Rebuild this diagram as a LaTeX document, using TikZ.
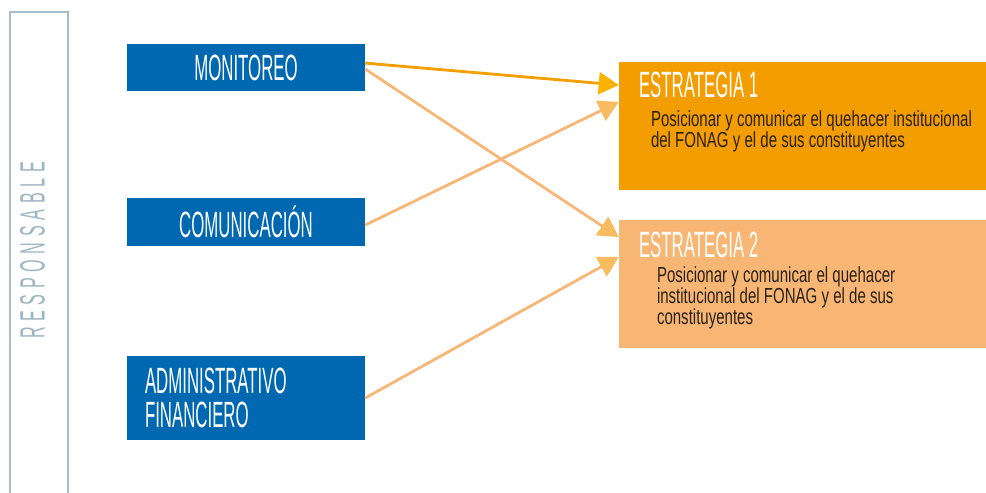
\documentclass[tikz,border=0pt]{standalone}
\usepackage{fontspec}
\setmainfont{Liberation Sans}
\newfontfamily\narrowfont{Liberation Sans}[FakeStretch=0.46]
\newfontfamily\bodyfont{Liberation Sans}[FakeStretch=0.69]
\newfontfamily\spacedfont{Liberation Sans}[FakeStretch=0.46,LetterSpace=16]
\usetikzlibrary{calc,arrows.meta}
\definecolor{areablue}{HTML}{0068B1}
\definecolor{stratone}{HTML}{F39D00}
\definecolor{strattwo}{HTML}{F8B674}
\definecolor{linkdark}{HTML}{F3A000}
\definecolor{tipdark}{HTML}{F9B300}
\definecolor{linklight}{HTML}{F8B777}
\definecolor{tiplight}{HTML}{F8BB5F}
\definecolor{respgray}{HTML}{9DB6C3}
\definecolor{bodytext}{HTML}{2B2118}
\tikzset{
  area/.style={fill=areablue, text=white, minimum width=5.95cm, inner sep=0,
    font=\narrowfont\fontsize{26}{24.5}\selectfont},
  strat/.style={minimum width=9.175cm, minimum height=3.2cm, inner sep=0},
  stitle/.style={anchor=north west, inner sep=0, text=white,
    font=\narrowfont\fontsize{26}{24.5}\selectfont},
  desc/.style={anchor=north west, inner sep=0, align=left, text=bodytext,
    font=\bodyfont\fontsize{15.5}{15}\selectfont},
  link/.style={line width=2pt, color=linklight,
    -{Triangle[length=0.5cm,width=0.55cm,color=tiplight]}},
}

\begin{document}
\begin{tikzpicture}
  \useasboundingbox (0,0) rectangle (24.65,-12.325);
  \draw[respgray!90, line width=1.4pt] (0.25,-12.4) -- (0.25,-0.3) -- (1.7,-0.3) -- (1.7,-12.4);
  \node[rotate=90, text=respgray, inner sep=0, font=\spacedfont\fontsize{25}{25}\selectfont] (resp) at (0.8125,-6.26) {RESPONSABLE};

  \node[area, minimum height=1.175cm] (mon) at (6.15,-1.6875) {MONITOREO};
  \node[area, minimum height=1.2cm] (com) at (6.15,-5.55) {COMUNICACIÓN};
  \node[area, minimum height=2.1cm, text width=5.05cm, inner xsep=0.45cm, align=left] (adm) at (6.15,-9.95) {ADMINISTRATIVO\\FINANCIERO};

  \node[strat, fill=stratone] (est1) at (20.0625,-3.15) {};
  \node[strat, fill=strattwo] (est2) at (20.0625,-7.1) {};
  \node[stitle] (est1t) at ($(est1.north west)+(0.5,-0.25)$) {ESTRATEGIA 1};
  \node[desc] (est1d) at ($(est1.north west)+(0.8,-1.22)$) {Posicionar y comunicar el quehacer institucional\\del FONAG y el de sus constituyentes};
  \node[stitle] (est2t) at ($(est2.north west)+(0.5,-0.3)$) {ESTRATEGIA 2};
  \node[desc] (est2d) at ($(est2.north west)+(0.95,-1.17)$) {Posicionar y comunicar el quehacer\\institucional del FONAG y el de sus\\constituyentes};

  \draw[link] ($(mon.east)+(0,-0.04)$) -- ($(est2.west)+(0,1.175)$);
  \draw[link] ($(com.east)+(0,-0.075)$) -- ($(est1.west)+(0,0.6)$);
  \draw[link] (adm.east) -- ($(est2.west)+(0,0.675)$);
  \draw[link, color=linkdark, -{Triangle[length=0.5cm,width=0.55cm,color=tipdark]}] ($(mon.east)+(0,0.11)$) -- ($(est1.west)+(0,1.025)$);
\end{tikzpicture}
\end{document}
